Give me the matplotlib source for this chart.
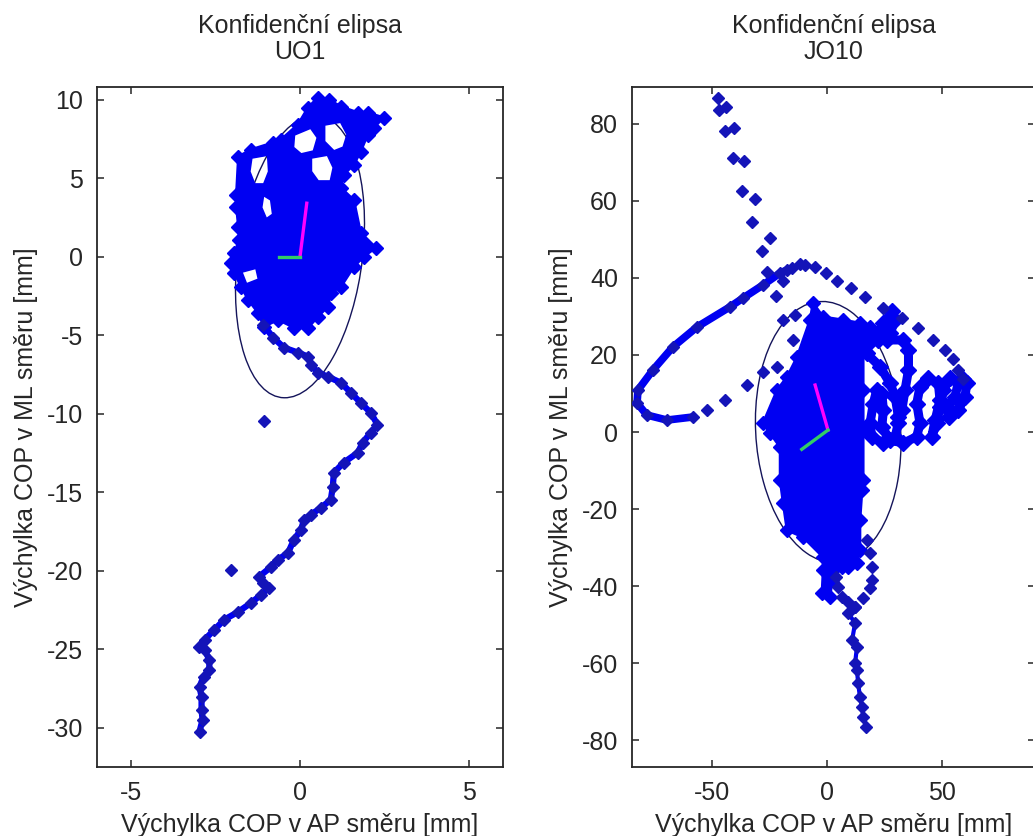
import numpy as np
import matplotlib
matplotlib.use('Agg')
import matplotlib.pyplot as plt
from matplotlib.path import Path
from matplotlib.patches import PathPatch, Ellipse

plt.rcParams['font.family'] = ['Liberation Sans', 'DejaVu Sans']
plt.rcParams['axes.unicode_minus'] = False

# ---------------- UO1 (left panel) ----------------
uo1_blob_x = [-2.03, -1.94, -1.79, -1.82, -1.88, -1.88, -1.82, -1.44, -0.79, -0.56,
              -0.06, 0.24, 0.53, 0.85, 1.21, 1.71, 2.0, 2.47, 2.18, 2.0,
              1.79, 1.59, 1.29, 1.2, 1.59, 1.79, 2.24, 1.88, 1.59, 1.21,
              0.91, 0.82, 0.53, 0.24, -0.18, -0.65, -1.06, -1.24, -1.53, -1.74, -1.94]
uo1_blob_y = [-0.38, 0.25, 1.08, 1.91, 3.18, 3.95, 6.37, 6.82, 7.26, 7.45,
              8.41, 9.49, 10.13, 10.0, 9.55, 9.17, 9.17, 8.85, 8.22, 7.77,
              6.69, 5.86, 5.22, 4.4, 3.6, 1.53, 0.57, 0.0, -0.64, -1.91,
              -2.29, -3.18, -3.82, -4.52, -4.52, -4.01, -4.46, -3.57, -2.74, -1.91, -1.02]
# white gaps inside the dense cloud
uo1_hole_a = ([-1.44, -0.94, -0.91, -1.06, -1.35, -1.5], [6.31, 6.5, 5.41, 4.59, 4.59, 5.41])
uo1_hole_b = ([-0.18, 0.32, 0.53, 0.41, 0.03, -0.21], [7.77, 8.22, 7.58, 6.69, 6.5, 6.94])
uo1_hole_c = ([0.71, 1.21, 1.41, 1.29, 1.0, 0.71], [8.41, 8.6, 7.77, 6.94, 6.69, 7.32])
uo1_hole_d = ([0.32, 0.82, 1.0, 0.91, 0.53, 0.32], [6.31, 6.5, 5.67, 4.78, 4.78, 5.41])
uo1_hole_g = ([-1.09, -0.85, -0.79, -1.0, -1.15], [3.95, 3.63, 2.68, 2.36, 3.12])
uo1_hole_h = ([-1.74, -1.29, -1.21, -1.59], [-0.96, -0.7, -1.46, -1.78])

uo1_trail_x = [-1.09, -0.79, -0.47, -0.06, 0.24, 0.32, 0.53, 0.82, 1.21, 1.5,
               1.79, 2.09, 2.29, 2.09, 1.85, 1.71, 1.29, 1.0, 0.97, 0.91,
               0.62, 0.32, 0.12, 0.03, -0.18, -0.35, -0.65, -0.85, -1.21, -1.09,
               -0.91, -1.15, -1.44, -1.82, -2.24, -2.53, -2.82, -3.0, -2.82, -2.68,
               -2.68, -2.85, -2.97, -2.91, -2.91, -2.88, -2.97]
uo1_trail_y = [-4.33, -5.16, -5.8, -6.11, -6.37, -6.88, -7.39, -7.64, -8.03, -8.66,
               -9.3, -9.94, -10.7, -11.21, -11.85, -12.48, -13.12, -13.76, -14.65, -15.48,
               -15.99, -16.43, -16.75, -17.39, -18.03, -18.85, -19.3, -19.75, -20.38, -20.76,
               -21.08, -21.53, -22.04, -22.61, -23.12, -23.76, -24.39, -24.84, -25.03, -25.67,
               -26.31, -26.75, -27.39, -28.03, -28.85, -29.49, -30.25]
uo1_single_x = [-1.06, -2.03]
uo1_single_y = [-10.45, -19.94]

uo1_ell_center = (0.0, 0.0)
uo1_ell_size = (3.7, 18.0)
uo1_ell_angle = -3.0
uo1_major_x, uo1_major_y = [0.0, 0.2], [0.0, 3.4]
uo1_minor_x, uo1_minor_y = [0.0, -0.62], [0.0, 0.0]

# ---------------- JO10 (right panel) ----------------
jo10_blob_x = [-6.1, -1.7, 7.0, 14.3, 18.7, 15.7, 15.7, 15.7, 15.7, 15.2,
               14.3, 14.3, 13.0, 9.1, 6.5, 2.2, 1.3, -2.2, -1.7, -1.7,
               -10.4, -17.4, -19.1, -20.4, -20.4, -24.8, -27.8, -21.7, -17.4, -13.0, -7.4]
jo10_blob_y = [33.5, 29.9, 29.1, 28.3, 26.0, 22.0, 10.9, 0.5, -12.5, -15.1,
               -22.9, -30.6, -34.0, -35.1, -35.1, -38.4, -42.9, -41.8, -35.8, -32.5,
               -27.3, -25.5, -18.4, -12.5, -3.9, -0.3, 2.3, 10.9, 14.3, 19.5, 29.1]

jo10_arc_x = [-17.4, -20.4, -27.8, -36.5, -42.2, -56.5, -67.0, -75.7, -82.2, -82.6, -78.3, -69.6, -58.3]
jo10_arc_y = [42.1, 41.3, 38.2, 34.8, 32.5, 27.3, 22.1, 16.1, 10.9, 7.5, 4.4, 3.1, 3.9]

jo10_sq1_x = [11.4, 18.7, 25.9, 33.2, 35.4, 35.4, 33.9, 32.5, 31.0, 29.6,
              24.5, 19.4, 18.7, 20.1, 21.6, 23.8, 24.5, 23.8, 27.4, 33.2,
              39.0, 40.4, 39.0, 40.4, 44.1, 48.4, 49.1, 47.0, 45.5, 47.7,
              49.1, 50.6, 53.5, 57.1, 55.7, 52.0, 52.8, 57.1, 60.0, 60.7, 59.3]
jo10_sq1_y = [23.9, 23.5, 23.9, 23.9, 21.3, 16.1, 10.9, 5.7, 2.3, -1.2,
              -2.9, -1.2, 2.3, 7.4, 10.9, 10.0, 5.7, 1.4, -2.1, -2.9,
              -1.2, 2.3, 7.4, 11.8, 13.9, 12.6, 8.3, 3.1, -1.2, 2.3,
              6.6, 10.9, 13.9, 13.1, 9.2, 6.6, 4.0, 5.7, 9.2, 12.6, 13.7]
jo10_sq2_x = [17.2, 23.0, 27.4, 29.6, 31.0]
jo10_sq2_y = [20.4, 17.0, 12.6, 9.2, 4.0]
jo10_sq3_x = [18.7, 21.6, 24.5, 28.1, 29.6, 27.4, 22.0]
jo10_sq3_y = [27.0, 24.8, 28.2, 31.3, 29.1, 25.6, 23.9]

jo10_loop_x = [17.4, 18.7, 19.6, 19.6, 18.7, 15.7, 12.2, 9.1, 6.5, 4.8, 3.9]
jo10_loop_y = [-28.1, -31.4, -35.1, -38.4, -40.5, -43.1, -45.5, -44.2, -42.9, -40.3, -37.7]
jo10_tail_x = [12.2, 9.1, 12.2, 10.9, 13.0, 12.2, 13.0, 13.5, 14.3, 15.2, 15.7, 17.0]
jo10_tail_y = [-45.5, -47.0, -49.6, -54.0, -55.8, -60.0, -61.8, -65.2, -68.8, -71.4, -74.0, -76.6]

jo10_pts_x = [-47.4, -47.0, -43.9, -44.3, -40.4, -40.9, -36.1, -37.0, -31.3, -32.6,
              -24.8, -28.3, -26.1, -19.1, -22.2, -15.2, -11.7, -9.6, -5.2, -0.4,
              4.3, 10.4, 16.5, 24.3, 32.6, 39.6, 46.1, 51.3, 54.8, 57.0,
              59.1, -19.1, -13.9, -14.8, -21.7, -27.8, -34.8, -44.3, -52.2]
jo10_pts_y = [86.8, 83.6, 84.4, 78.2, 79.0, 71.2, 70.4, 62.6, 60.5, 54.5,
              50.4, 47.0, 41.6, 39.2, 35.3, 42.6, 43.6, 43.4, 42.9, 41.3,
              39.2, 37.4, 35.1, 32.2, 29.6, 27.0, 23.9, 21.3, 19.0, 16.1,
              13.8, 29.1, 30.4, 23.9, 16.9, 15.6, 12.2, 8.3, 5.7]

jo10_ell_center = (0.5, 0.0)
jo10_ell_size = (62.0, 69.0)
jo10_ell_angle = 25.0
jo10_major_x, jo10_major_y = [0.4, -5.2], [0.5, 12.2]
jo10_minor_x, jo10_minor_y = [0.4, -11.0], [0.5, -4.5]

BLUE = '#0000f2'
MARK = '#1414b8'
TXT = '#262626'
ELL = '#14145a'
MAG = '#ff00ff'
GRN = '#33cc66'


def ring(xs, ys, ccw):
    pts = np.column_stack([xs, ys])
    area = np.sum(pts[:, 0] * np.roll(pts[:, 1], -1) - np.roll(pts[:, 0], -1) * pts[:, 1])
    if (area > 0) != ccw:
        pts = pts[::-1]
    verts = np.vstack([pts, pts[:1]])
    codes = [Path.MOVETO] + [Path.LINETO] * (len(pts) - 1) + [Path.CLOSEPOLY]
    return verts, codes


def cloud(ax, xs, ys, holes=()):
    verts, codes = ring(xs, ys, True)
    vs, cs = [verts], list(codes)
    for hx, hy in holes:
        v, c = ring(hx, hy, False)
        vs.append(v)
        cs += c
    path = Path(np.vstack(vs), cs)
    ax.add_patch(PathPatch(path, facecolor=BLUE, edgecolor=BLUE, lw=2.0,
                           joinstyle='round', zorder=3))
    # diamonds on the outline give the ragged edge of the point cloud
    ax.plot(xs, ys, 'D', color=BLUE, ms=7, zorder=2.5)


def trail(ax, xs, ys, lw=5.0, ms=6):
    ax.plot(xs, ys, '-', color=BLUE, lw=lw, solid_capstyle='round',
            solid_joinstyle='round', zorder=3)
    ax.plot(xs, ys, 'D', color=MARK, ms=ms, zorder=3)


def style(ax, xlim, ylim, xticks, yticks, name):
    ax.set_xlim(xlim)
    ax.set_ylim(ylim)
    ax.set_xticks(xticks)
    ax.set_yticks(yticks)
    ax.tick_params(direction='in', length=5, width=1.1, top=True, right=True,
                   labelsize=18, pad=10, colors=TXT)
    for s in ax.spines.values():
        s.set_linewidth(1.3)
        s.set_color(TXT)
    ax.set_title('Konfidenční elipsa\n' + name, fontsize=18, pad=20, color=TXT,
                 linespacing=1.1)
    ax.set_xlabel('Výchylka COP v AP směru [mm]', fontsize=18, labelpad=6, color=TXT)
    ax.set_ylabel('Výchylka COP v ML směru [mm]', fontsize=18, labelpad=6, color=TXT)


fig = plt.figure(figsize=(10.33, 8.36), dpi=100)
W, H = 1033.0, 836.0
ax1 = fig.add_axes([97 / W, (836 - 767) / H, 406 / W, 680 / H])
ax2 = fig.add_axes([632 / W, (836 - 767) / H, 403 / W, 680 / H])

# left panel
ax1.add_patch(Ellipse(uo1_ell_center, *uo1_ell_size, angle=uo1_ell_angle,
                      fill=False, edgecolor=ELL, lw=1.0, zorder=2))
cloud(ax1, uo1_blob_x, uo1_blob_y,
      [uo1_hole_a, uo1_hole_b, uo1_hole_c, uo1_hole_d, uo1_hole_g, uo1_hole_h])
trail(ax1, uo1_trail_x, uo1_trail_y, lw=4.5, ms=6)
ax1.plot(uo1_single_x, uo1_single_y, 'D', color=MARK, ms=6, zorder=3)
ax1.plot(uo1_major_x, uo1_major_y, color=MAG, lw=2.4, zorder=5)
ax1.plot(uo1_minor_x, uo1_minor_y, color=GRN, lw=2.4, zorder=5)
style(ax1, (-6, 6), (-32.5, 10.8), [-5, 0, 5], np.arange(-30, 11, 5), 'UO1')

# right panel
ax2.add_patch(Ellipse(jo10_ell_center, *jo10_ell_size, angle=jo10_ell_angle,
                      fill=False, edgecolor=ELL, lw=1.0, zorder=2))
cloud(ax2, jo10_blob_x, jo10_blob_y)
trail(ax2, jo10_arc_x, jo10_arc_y, lw=5.5, ms=6)
for sx, sy in [(jo10_sq1_x, jo10_sq1_y), (jo10_sq2_x, jo10_sq2_y), (jo10_sq3_x, jo10_sq3_y)]:
    ax2.plot(sx, sy, '-', color=BLUE, lw=6.5, solid_capstyle='round',
             solid_joinstyle='round', zorder=3)
    ax2.plot(sx, sy, 'D', color=BLUE, ms=8, zorder=3)
ax2.plot(jo10_loop_x, jo10_loop_y, 'D', color=MARK, ms=6, zorder=3)
trail(ax2, jo10_tail_x, jo10_tail_y, lw=3.0, ms=6)
ax2.plot(jo10_pts_x, jo10_pts_y, 'D', color=MARK, ms=6, zorder=3)
ax2.plot(jo10_major_x, jo10_major_y, color=MAG, lw=2.4, zorder=5)
ax2.plot(jo10_minor_x, jo10_minor_y, color=GRN, lw=2.4, zorder=5)
style(ax2, (-84.8, 90.4), (-87.0, 89.6), [-50, 0, 50], np.arange(-80, 81, 20), 'JO10')

fig.savefig('out.png', dpi=100, facecolor='white')
